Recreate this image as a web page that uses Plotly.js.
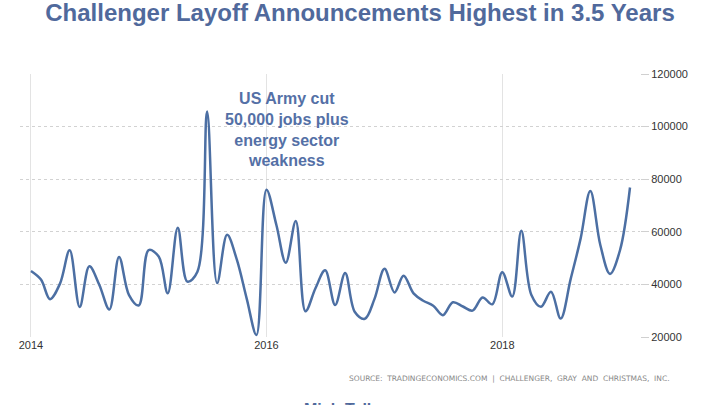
<!DOCTYPE html>
<html>
<head>
<meta charset="utf-8">
<script src="https://cdn.plot.ly/plotly-3.0.1.min.js"></script>
<style>html,body{margin:0;padding:0;background:#fff;}#chart{width:720px;height:405px;}</style>
</head>
<body>
<div id="chart"></div>
<script>
const months = [
 "2014-01","2014-02","2014-03","2014-04","2014-05","2014-06","2014-07","2014-08","2014-09","2014-10","2014-11","2014-12",
 "2015-01","2015-02","2015-03","2015-04","2015-05","2015-06","2015-07","2015-08","2015-09","2015-10","2015-11","2015-12",
 "2016-01","2016-02","2016-03","2016-04","2016-05","2016-06","2016-07","2016-08","2016-09","2016-10","2016-11","2016-12",
 "2017-01","2017-02","2017-03","2017-04","2017-05","2017-06","2017-07","2017-08","2017-09","2017-10","2017-11","2017-12",
 "2018-01","2018-02","2018-03","2018-04","2018-05","2018-06","2018-07","2018-08","2018-09","2018-10","2018-11","2018-12",
 "2019-01","2019-02"
];
const jobCuts = [
 45107,41835,34399,40298,52961,31434,46887,39800,30477,50462,35940,32000,
 53041,50579,36594,61582,41034,44842,105696,40500,58877,49500,34500,20800,
 76000,62500,48207,64141,29800,38536,45346,32188,44324,29500,26936,34500,
 45934,36957,43310,36602,33800,31900,28307,33200,31600,30038,35038,32423,
 44653,35369,60357,36081,31517,37202,27000,42000,57500,75500,55000,44000,
 52988,76835
];
const yTicks = [20000,40000,60000,80000,100000,120000];
const yTickText = ["20000","40000","60000","80000","100000","120000"];
const xTickVals = ["2014-01-01","2016-01-01","2018-01-01"];
const xTickText = ["2014","2016","2018"];

const trace = {
  x: months.map(m => m + "-01"),
  y: jobCuts,
  type: "scatter",
  mode: "lines",
  line: {color: "#4c6fa3", width: 2.5, shape: "spline", smoothing: 1},
  hoverinfo: "skip"
};

const layout = {
  width: 720, height: 405,
  margin: {l: 20, r: 80, t: 74, b: 68},
  paper_bgcolor: "#fff", plot_bgcolor: "#fff",
  showlegend: false,
  font: {family: "Liberation Sans, Arial, sans-serif", color: "#333"},
  title: {
    text: "<b>Challenger Layoff Announcements Highest in 3.5 Years</b>",
    font: {family: "Liberation Sans, Arial, sans-serif", size: 24, color: "#50699c"},
    x: 0.5, xanchor: "center", y: 0.968, yanchor: "middle"
  },
  xaxis: {
    type: "date",
    range: ["2013-11-28", "2019-03-04"],
    tickvals: xTickVals, ticktext: xTickText,
    showgrid: true, gridcolor: "#e3e3e3", gridwidth: 1,
    zeroline: false, showline: false, ticks: "",
    tickfont: {size: 11, color: "#333"},
    fixedrange: true
  },
  yaxis: {
    range: [20000, 120000],
    tickvals: yTicks, ticktext: yTickText,
    side: "right",
    showgrid: true, gridcolor: "#d2d2d2", griddash: "dot", gridwidth: 1,
    zeroline: false, showline: false,
    ticks: "outside", ticklen: 8, tickcolor: "#d0d0d0",
    tickfont: {size: 11, color: "#333"},
    fixedrange: true
  },
  annotations: [
    {
      xref: "paper", yref: "paper", x: (286.5 - 20) / 620, y: (337 - 129) / 263,
      xanchor: "center", yanchor: "middle",
      text: "<b>US Army cut<br>50,000 jobs plus<br>energy sector<br>weakness</b>",
      showarrow: false, align: "center",
      font: {family: "Liberation Sans, Arial, sans-serif", size: 16, color: "#5470a6"}
    },
    {
      xref: "paper", yref: "paper", x: (672 - 20) / 620, y: (337 - 378) / 263,
      xanchor: "right", yanchor: "middle",
      text: "SOURCE:  TRADINGECONOMICS.COM  |  CHALLENGER,  GRAY  AND  CHRISTMAS,  INC.",
      showarrow: false,
      font: {family: "DejaVu Sans, Liberation Sans, sans-serif", size: 7.5, color: "#888"}
    },
    {
      xref: "paper", yref: "paper", x: (340 - 20) / 620, y: (337 - 399) / 263,
      xanchor: "center", yanchor: "top",
      text: "<b>Mish Talk</b>",
      showarrow: false,
      font: {family: "Liberation Sans, Arial, sans-serif", size: 16, color: "#50699c"}
    }
  ]
};

Plotly.newPlot("chart", [trace], layout, {staticPlot: true, displayModeBar: false});
</script>
</body>
</html>
